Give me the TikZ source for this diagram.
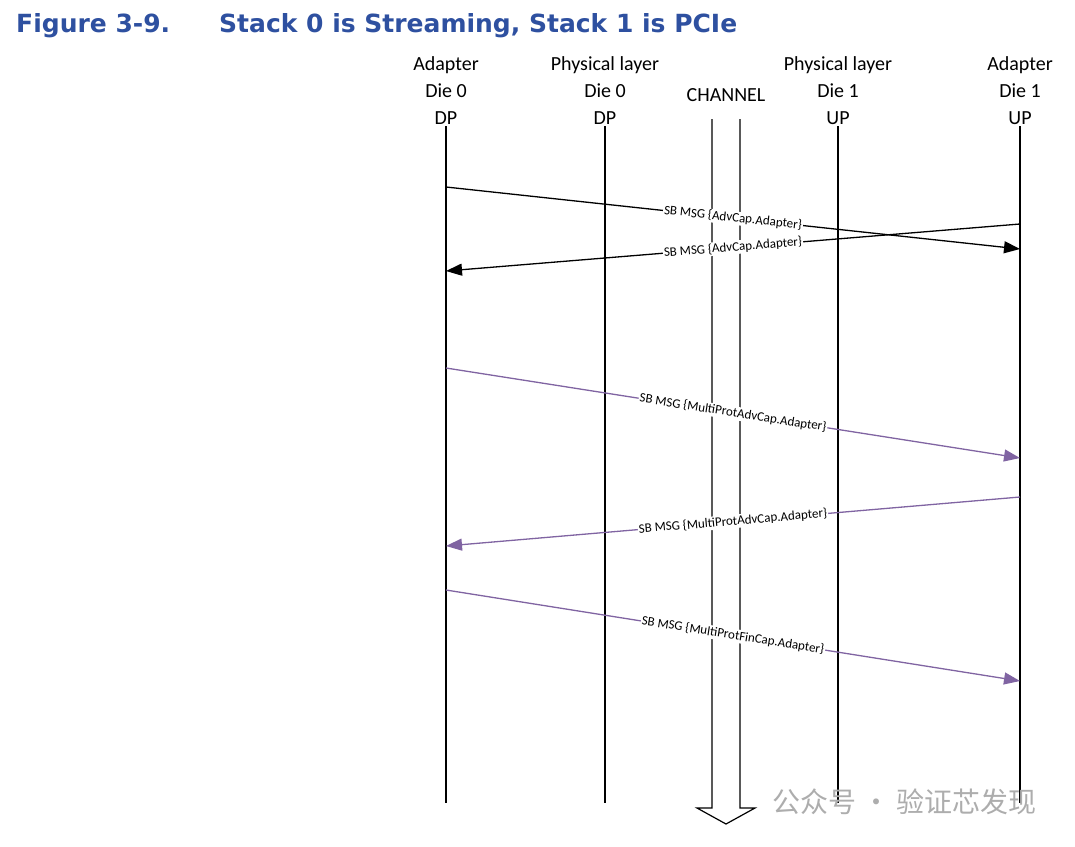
\documentclass[tikz,border=0pt]{standalone}
\usepackage{fontspec}
\setmainfont{Carlito}
\newfontfamily\titlefont{DejaVu Sans}
\newfontfamily\cjkfont{Noto Sans CJK SC}
\usepackage{tikz}
\usepackage{xcolor}
\usetikzlibrary{arrows.meta, positioning}
\definecolor{figblue}{RGB}{46,80,160}
\definecolor{msgpurple}{RGB}{128,100,162}

\begin{document}
\begin{tikzpicture}[x=1pt, y=-1pt,
  head/.style={font=\fontsize{20}{24}\selectfont, inner sep=0pt, anchor=base},
  life/.style={line width=1.2pt},
  msg/.style={line width=1.3pt, -{Triangle[length=16pt, width=12pt]}},
  msglabel/.style={font=\fontsize{13}{16}\selectfont, fill=white, inner sep=1pt, midway, sloped}]
\useasboundingbox (0, 0) rectangle (1075, 846);
\node [anchor=base west, inner sep=0pt, text=figblue, font=\titlefont\bfseries\fontsize{25}{30}\selectfont] (fig) at (16, 32) {Figure 3-9.};
\node [anchor=base west, inner sep=0pt, text=figblue, font=\titlefont\bfseries\fontsize{25}{30}\selectfont] (caption) at (219, 32) {Stack 0 is Streaming, Stack 1 is PCIe};
\foreach \x/\n/\a/\b/\c in {446/ad0/Adapter/Die 0/DP, 605/ph0/Physical layer/Die 0/DP, 838/ph1/Physical layer/Die 1/UP, 1020/ad1/Adapter/Die 1/UP} {
  \node [head] (\n a) at (\x, 70) {\a};
  \node [head] (\n b) at (\x, 97) {\b};
  \node [head] (\n c) at (\x, 124) {\c};
  \coordinate (\n top) at (\x, 126);
  \coordinate (\n bot) at (\x, 803);
  \draw [life] (\n top) -- (\n bot);
}
\node [head] (chan) at (726, 101) {CHANNEL};
\coordinate (chl) at (712, 119);
\coordinate (chr) at (740, 119);
\draw [life, line join=miter] (chl) -- (712, 808) -- (697, 808) -- (726, 824) -- (755, 808) -- (740, 808) -- (chr);
\foreach \y/\n in {187/m1s, 368/m3s, 590/m5s} \coordinate (\n) at (446, \y);
\foreach \y/\n in {249/m1e, 458/m3e, 681/m5e} \coordinate (\n) at (1020, \y);
\coordinate (m2s) at (1020, 224);
\coordinate (m2e) at (446, 271);
\coordinate (m4s) at (1020, 497);
\coordinate (m4e) at (446, 546);
\draw [msg] (m1s) -- (m1e) node [msglabel] {SB MSG \{AdvCap.Adapter\}};
\draw [msg] (m2s) -- (m2e) node [msglabel] {SB MSG \{AdvCap.Adapter\}};
\draw [msg, color=msgpurple] (m3s) -- (m3e) node [msglabel, text=black] {SB MSG \{MultiProtAdvCap.Adapter\}};
\draw [msg, color=msgpurple] (m4s) -- (m4e) node [msglabel, text=black] {SB MSG \{MultiProtAdvCap.Adapter\}};
\draw [msg, color=msgpurple] (m5s) -- (m5e) node [msglabel, text=black] {SB MSG \{MultiProtFinCap.Adapter\}};
\node [anchor=west, inner sep=0pt, text=black!32, font=\cjkfont\fontsize{28}{32}\selectfont] (mark) at (772, 802) {公众号 · 验证芯发现};
\end{tikzpicture}
\end{document}
